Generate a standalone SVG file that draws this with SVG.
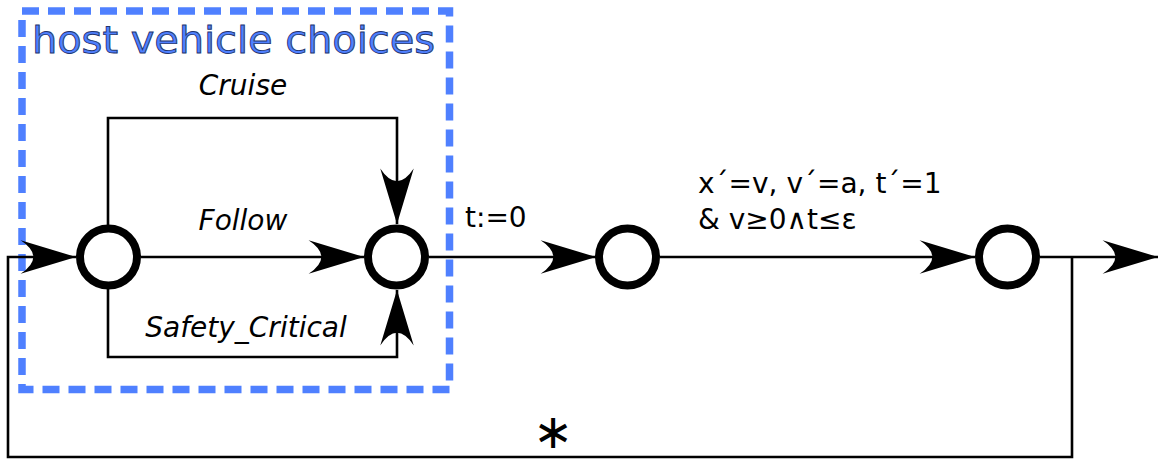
<svg xmlns="http://www.w3.org/2000/svg" width="1160" height="459" viewBox="0 0 1160 459">
  <style>
    .node { fill: #ffffff; stroke: #000000; stroke-width: 8; }
    .edge { fill: none; stroke: #000000; stroke-width: 2.6; marker-end: url(#arrow); }
    .lbl { font-family: "DejaVu Sans", sans-serif; font-size: 28px; fill: #000000; }
    .it { font-style: oblique; }
    .star { font-family: "DejaVu Sans", sans-serif; font-size: 48px; fill: #000000; }
    .title { font-family: "DejaVu Sans", sans-serif; font-size: 38px; fill: #4f80ff; stroke: #22346e; stroke-width: 0.9; }
  </style>
  <defs>
    <marker id="arrow" markerUnits="userSpaceOnUse" markerWidth="60" markerHeight="40" viewBox="-50 -16 52 32" refX="0" refY="0" orient="auto">
      <path d="M0,0 L-48,-14.5 Q-26,0 -48,14.5 Z" fill="#000000"/>
    </marker>
  </defs>
  <rect width="1160" height="459" fill="#ffffff"/>

  <g id="group-box">
    <rect x="22" y="11" width="427.5" height="378.5" fill="none" stroke="#4f80ff" stroke-width="7.5" stroke-dasharray="17,9"/>
    <text class="title" x="32" y="53" textLength="403" lengthAdjust="spacingAndGlyphs">host vehicle choices</text>
  </g>

  <g id="connectors">
    <path class="edge" d="M1072,257 V457 H8 V257 H76"/>
    <path class="edge" d="M141,257 H364"/>
    <path class="edge" d="M108,225 V118 H397 V224"/>
    <path class="edge" d="M108,289 V357 H397 V290"/>
    <path class="edge" d="M429,257 H596"/>
    <path class="edge" d="M660,257 H975"/>
    <path class="edge" d="M1040,257 H1158"/>
  </g>

  <g id="labels">
    <text class="lbl it" x="243" y="95" text-anchor="middle">Cruise</text>
    <text class="lbl it" x="243" y="230" text-anchor="middle">Follow</text>
    <text class="lbl it" x="246" y="337" text-anchor="middle">Safety_Critical</text>
    <text class="lbl" x="465" y="227">t:=0</text>
    <text class="lbl" x="698" y="193">x´=v, v´=a, t´=1</text>
    <text class="lbl" x="698" y="229">&amp; v≥0∧t≤ε</text>
    <text class="star" x="553" y="448" text-anchor="middle">∗</text>
  </g>

  <g id="node-start">
    <circle class="node" cx="108.5" cy="257" r="28.5"/>
  </g>
  <g id="node-choice">
    <circle class="node" cx="396.5" cy="257" r="28.5"/>
  </g>
  <g id="node-reset">
    <circle class="node" cx="627.5" cy="257" r="28.5"/>
  </g>
  <g id="node-ode">
    <circle class="node" cx="1007.5" cy="257" r="28.5"/>
  </g>
</svg>
